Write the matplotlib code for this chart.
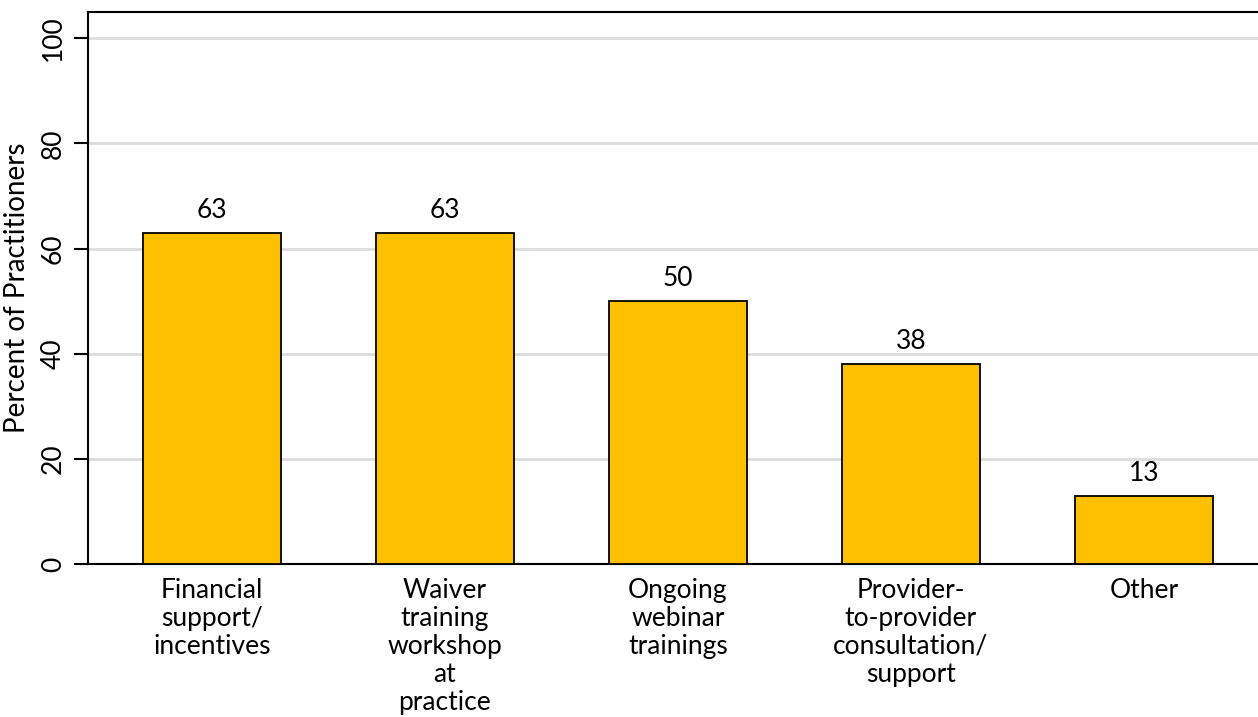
import matplotlib
matplotlib.use("Agg")
import matplotlib.pyplot as plt
import numpy as np

# supports practitioners said would help
categories = ["Financial\nsupport/\nincentives",
              "Waiver\ntraining\nworkshop\nat\npractice",
              "Ongoing\nwebinar\ntrainings",
              "Provider-\nto-provider\nconsultation/\nsupport",
              "Other"]
percent = [63, 63, 50, 38, 13]
yticks = [0, 20, 40, 60, 80, 100]

plt.rcParams['font.family'] = ['Lato', 'DejaVu Sans']

fig = plt.figure(figsize=(12.58, 7.17), dpi=100)
ax = fig.add_axes([0.07, 0.2134, 0.93, 0.7699])

x = np.arange(len(categories))
bars = ax.bar(x, percent, width=0.59, color="#FFC000", edgecolor="black",
              linewidth=1.3, zorder=3)

for b, v in zip(bars, percent):
    ax.annotate(f"{v:.0f}", (b.get_x() + b.get_width() / 2, v),
                xytext=(0, 7), textcoords="offset points",
                ha="center", va="bottom", fontsize=19)

ax.set_xlim(-0.532, 4.49)
ax.set_ylim(0, 105)
ax.set_yticks(yticks)
ax.set_yticklabels([str(t) for t in yticks], rotation=90, va="center",
                   fontsize=19)
ax.set_xticks(x)
ax.set_xticklabels(categories, fontsize=19, linespacing=1.15)
ax.tick_params(axis="x", length=0, pad=10)
ax.tick_params(axis="y", length=10, width=1.5, pad=6)
ax.set_ylabel("Percent of Practitioners", fontsize=20, labelpad=8)

ax.yaxis.grid(True, color="#dcdcdc", linewidth=2, zorder=0)
ax.set_axisbelow(True)
for s in ["left", "bottom", "top"]:
    ax.spines[s].set_linewidth(1.5)
ax.spines["right"].set_visible(False)

fig.savefig("out.png", dpi=100)
